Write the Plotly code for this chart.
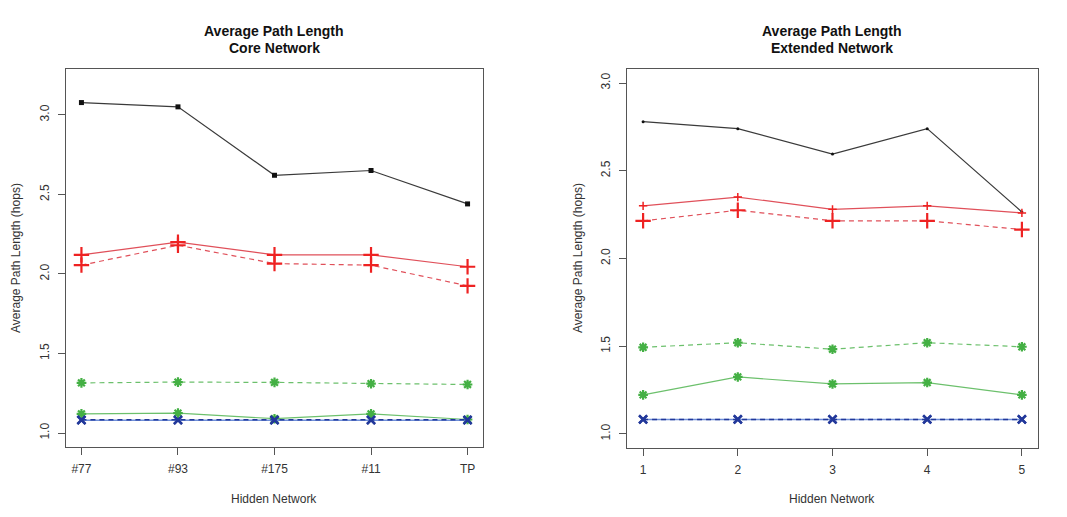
import plotly.graph_objects as go

# ---------------- data ----------------
core_x = ["#77", "#93", "#175", "#11", "TP"]
ext_x = [1, 2, 3, 4, 5]

core_black = [3.077, 3.05, 2.62, 2.65, 2.44]
core_red_solid = [2.12, 2.20, 2.12, 2.12, 2.045]
core_red_dash = [2.055, 2.18, 2.065, 2.055, 1.925]
core_green_dash = [1.315, 1.32, 1.318, 1.31, 1.305]
core_green_solid = [1.12, 1.125, 1.09, 1.12, 1.085]
core_blue_solid = [1.08, 1.08, 1.08, 1.08, 1.08]
core_blue_dash = [1.083, 1.083, 1.083, 1.083, 1.083]

ext_black = [2.78, 2.74, 2.595, 2.74, 2.265]
ext_red_solid = [2.30, 2.35, 2.28, 2.30, 2.26]
ext_red_dash = [2.215, 2.275, 2.215, 2.215, 2.165]
ext_green_dash = [1.494, 1.52, 1.483, 1.52, 1.497]
ext_green_solid = [1.223, 1.325, 1.285, 1.293, 1.223]
ext_blue_solid = [1.083, 1.083, 1.083, 1.083, 1.083]
ext_blue_dash = [1.083, 1.083, 1.083, 1.083, 1.083]

core_yticks = [1.0, 1.5, 2.0, 2.5, 3.0]
ext_yticks = [1.0, 1.5, 2.0, 2.5, 3.0]

W, H = 1067, 517
BLACK = "#3a3a3a"
RED = "#ee2222"
RED_LINE = "#e0505a"
GREEN = "#44b044"
GREEN_LINE = "#6cc06c"
BLUE = "#22389a"
BLUE_LINE = "#6f8fd8"
DASH = "5px,4px"

fig = go.Figure()


def add_series(xa, ya, x, y, color, line_color, dash, symbol, size, lw=1.2, mlw=2.0):
    fig.add_trace(go.Scatter(
        x=x, y=y, xaxis=xa, yaxis=ya, mode="lines+markers",
        line=dict(color=line_color, width=lw, dash=dash),
        marker=dict(symbol=symbol, size=size, color=color,
                    line=dict(color=color, width=mlw)),
        showlegend=False, hoverinfo="x+y"))


# left (core) -- x as category indices
cx = list(range(len(core_x)))
add_series("x", "y", cx, core_black, "#111111", BLACK, "solid", "square", 5, 1.2, 0)
add_series("x", "y", cx, core_red_solid, RED, RED_LINE, "solid", "cross-thin-open", 11, 1.2, 2.2)
add_series("x", "y", cx, core_red_dash, RED, RED_LINE, DASH, "cross-thin-open", 11, 1.2, 2.2)
add_series("x", "y", cx, core_green_dash, GREEN, GREEN_LINE, DASH, "asterisk-open", 8, 1.2, 2.2)
add_series("x", "y", cx, core_green_solid, GREEN, GREEN_LINE, "solid", "asterisk-open", 8, 1.2, 2.2)
add_series("x", "y", cx, core_blue_solid, BLUE, BLUE_LINE, "solid", "x-thin-open", 8, 1.5, 2.4)
add_series("x", "y", cx, core_blue_dash, BLUE, BLUE, DASH, "x-thin-open", 8, 1.5, 2.4)

# right (extended)
add_series("x2", "y2", ext_x, ext_black, "#111111", BLACK, "solid", "circle", 3, 1.2, 0)
add_series("x2", "y2", ext_x, ext_red_solid, RED, RED_LINE, "solid", "cross-thin-open", 6, 1.2, 1.5)
add_series("x2", "y2", ext_x, ext_red_dash, RED, RED_LINE, DASH, "cross-thin-open", 11, 1.2, 2.2)
add_series("x2", "y2", ext_x, ext_green_dash, GREEN, GREEN_LINE, DASH, "asterisk-open", 8, 1.2, 2.2)
add_series("x2", "y2", ext_x, ext_green_solid, GREEN, GREEN_LINE, "solid", "asterisk-open", 8, 1.2, 2.2)
add_series("x2", "y2", ext_x, ext_blue_solid, BLUE, BLUE_LINE, "solid", "x-thin-open", 8, 1.5, 2.4)
add_series("x2", "y2", ext_x, ext_blue_dash, BLUE, BLUE, DASH, "x-thin-open", 8, 1.5, 2.4)


def px_x(p):
    return p / W


def px_y(p):
    return 1 - p / H


axis_common = dict(showline=True, mirror=True, linecolor="#555555", linewidth=1,
                   ticks="outside", ticklen=7, tickcolor="#555555", tickwidth=1,
                   showgrid=False, zeroline=False, ticklabelstandoff=4,
                   tickfont=dict(family="Liberation Sans, Arial, sans-serif", size=12, color="#333333"))

fig.update_layout(
    width=W, height=H, margin=dict(l=0, r=0, t=0, b=0),
    paper_bgcolor="white", plot_bgcolor="white",
    xaxis=dict(domain=[px_x(66), px_x(483)], range=[-0.16, 4.16],
               tickvals=cx, ticktext=core_x, anchor="y", **axis_common),
    yaxis=dict(domain=[px_y(447), px_y(69)], range=[0.912, 3.288],
               tickvals=core_yticks, ticktext=[f"{v:.1f}" for v in core_yticks],
               tickangle=-90, anchor="x", **axis_common),
    xaxis2=dict(domain=[px_x(627), px_x(1038)], range=[0.83, 5.17],
                tickvals=ext_x, ticktext=[str(v) for v in ext_x], anchor="y2", **axis_common),
    yaxis2=dict(domain=[px_y(448), px_y(69)], range=[0.92, 3.08],
                tickvals=ext_yticks, ticktext=[f"{v:.1f}" for v in ext_yticks],
                tickangle=-90, anchor="x2", **axis_common),
)

font_t = dict(family="Liberation Sans, Arial, sans-serif", size=14, color="#111111")
font_a = dict(family="Liberation Sans, Arial, sans-serif", size=12, color="#333333")

ann = [
    dict(x=px_x(274), y=px_y(31), text="<b>Average Path Length</b>", font=font_t),
    dict(x=px_x(274), y=px_y(48), text="<b>Core Network</b>", font=font_t),
    dict(x=px_x(832), y=px_y(31), text="<b>Average Path Length</b>", font=font_t),
    dict(x=px_x(832), y=px_y(48), text="<b>Extended Network</b>", font=font_t),
    dict(x=px_x(274), y=px_y(499), text="Hidden Network", font=font_a),
    dict(x=px_x(832), y=px_y(499), text="Hidden Network", font=font_a),
    dict(x=px_x(16), y=px_y(258), text="Average Path Length (hops)", font=font_a, textangle=-90),
    dict(x=px_x(578), y=px_y(258), text="Average Path Length (hops)", font=font_a, textangle=-90),
]
for a in ann:
    fig.add_annotation(xref="paper", yref="paper", showarrow=False,
                       xanchor="center", yanchor="middle", **a)

fig.write_html("out.html")
